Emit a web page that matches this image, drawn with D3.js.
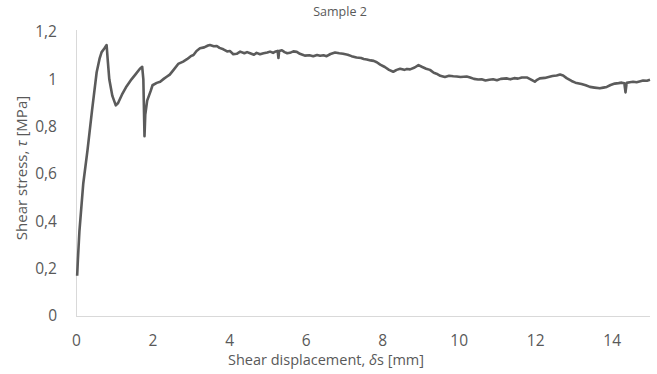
<!DOCTYPE html>
<html>
<head>
<meta charset="utf-8">
<script src="https://cdn.jsdelivr.net/npm/d3@7"></script>
<style>
  html, body { margin: 0; padding: 0; background: #fff; }
  svg { display: block; }
  text { font-family: "Open Sans", "Noto Sans", sans-serif; fill: #595959; }
</style>
</head>
<body>
<svg id="chart" width="657" height="374"></svg>
<script>
// Shear displacement δs [mm]
const displacement = [
  0.03, 0.05, 0.09, 0.19, 0.3, 0.42, 0.54, 0.62, 0.67, 0.74, 0.8, 0.83, 0.87, 0.95, 1.04,
  1.1, 1.2, 1.32, 1.45, 1.55, 1.67, 1.73, 1.76, 1.79, 1.81, 1.86, 1.95, 2.0, 2.11, 2.2, 2.3,
  2.37, 2.45, 2.55, 2.67, 2.8, 2.9, 3.0, 3.07, 3.15, 3.24, 3.35, 3.45, 3.5, 3.6, 3.68, 3.75,
  3.85, 3.95, 4.02, 4.11, 4.2, 4.29, 4.4, 4.47, 4.55, 4.65, 4.72, 4.81, 4.9, 5.0, 5.07, 5.15,
  5.22, 5.27, 5.29, 5.31, 5.38, 5.45, 5.52, 5.59, 5.68, 5.77, 5.85, 5.92, 5.98, 6.1, 6.2, 6.3,
  6.38, 6.47, 6.55, 6.65, 6.77, 6.88, 6.98, 7.1, 7.2, 7.33, 7.45, 7.52, 7.6, 7.7, 7.78, 7.86,
  7.95, 8.07, 8.18, 8.29, 8.38, 8.47, 8.58, 8.65, 8.73, 8.85, 8.95, 9.05, 9.15, 9.25, 9.35, 9.42,
  9.52, 9.64, 9.75, 9.86, 9.95, 10.05, 10.21, 10.3, 10.4, 10.51, 10.6, 10.7, 10.8, 10.9, 11.0, 11.1,
  11.25, 11.35, 11.45, 11.55, 11.65, 11.78, 11.88, 11.99, 12.05, 12.12, 12.25, 12.35, 12.45, 12.56, 12.65, 12.73,
  12.82, 12.95, 13.05, 13.21, 13.32, 13.43, 13.55, 13.69, 13.78, 13.87, 13.97, 14.08, 14.18, 14.26, 14.33, 14.36,
  14.39, 14.47, 14.56, 14.65, 14.75, 14.82, 14.92, 15.0
];
// Shear stress τ [MPa]
const stress = [
  0.17, 0.24, 0.36, 0.56, 0.7, 0.87, 1.03, 1.09, 1.115, 1.13, 1.145, 1.08, 1.0, 0.93, 0.89,
  0.9, 0.935, 0.97, 1.0, 1.02, 1.045, 1.053, 1.0, 0.76, 0.85, 0.91, 0.95, 0.975, 0.985, 0.99, 1.003,
  1.011, 1.02, 1.04, 1.065, 1.075, 1.085, 1.098, 1.103, 1.12, 1.131, 1.135, 1.143, 1.145, 1.14, 1.141, 1.133,
  1.127, 1.118, 1.12, 1.106, 1.108, 1.117, 1.11, 1.115, 1.11, 1.104, 1.112, 1.106, 1.11, 1.113, 1.117, 1.112,
  1.118, 1.12, 1.09, 1.12, 1.123, 1.115, 1.11, 1.112, 1.118, 1.116, 1.108, 1.104, 1.1, 1.102, 1.098, 1.103,
  1.1, 1.102, 1.098, 1.107, 1.113, 1.11, 1.108, 1.104, 1.098, 1.092, 1.09, 1.086, 1.084, 1.08, 1.078, 1.072,
  1.062, 1.052, 1.04, 1.032, 1.04, 1.045, 1.04, 1.044, 1.042, 1.05, 1.06, 1.052, 1.045, 1.04, 1.028, 1.024,
  1.015, 1.01, 1.015, 1.013, 1.012, 1.01, 1.012, 1.008, 1.002, 0.999, 1.0, 0.995, 0.998, 1.0, 0.996, 1.002,
  1.004, 1.0, 1.005, 1.003, 1.008, 1.008, 1.0, 0.99, 0.998, 1.004, 1.006, 1.01, 1.014, 1.016, 1.02, 1.016,
  1.005, 0.993, 0.986, 0.98, 0.975, 0.968, 0.965, 0.962, 0.965, 0.968, 0.976, 0.982, 0.984, 0.986, 0.983, 0.945,
  0.985, 0.988, 0.99, 0.988, 0.992, 0.995, 0.994, 0.998
];
const xTicks = [0, 2, 4, 6, 8, 10, 12, 14];
const yTicks = [0, 0.2, 0.4, 0.6, 0.8, 1, 1.2];

const svg = d3.select("#chart");
const plotLeft = 76, plotRight = 650, plotTop = 32, plotBottom = 316;

const x = d3.scaleLinear().domain([0, 15]).range([plotLeft, plotRight]);
const y = d3.scaleLinear().domain([0, 1.2]).range([plotBottom, plotTop]);

const fmt = v => d3.format("~g")(v).replace(".", ",");

// axis lines
svg.append("line").attr("x1", plotLeft + 0.5).attr("x2", plotLeft + 0.5).attr("y1", 30).attr("y2", plotBottom)
  .attr("stroke", "#d9d9d9").attr("stroke-width", 1);
svg.append("line").attr("x1", plotLeft).attr("x2", plotRight).attr("y1", plotBottom + 0.5).attr("y2", plotBottom + 0.5)
  .attr("stroke", "#d9d9d9").attr("stroke-width", 1);

// x axis labels
const xAxis = d3.axisBottom(x).tickValues(xTicks).tickFormat(fmt).tickSize(0).tickPadding(0);
const gx = svg.append("g").attr("transform", `translate(0,${plotBottom + 18.5})`).call(xAxis);
gx.select(".domain").remove();
gx.selectAll("text").attr("font-size", 15.5).attr("fill", "#595959")
  .style("font-family", "'Open Sans', sans-serif");

// y axis labels
const yAxis = d3.axisLeft(y).tickValues(yTicks).tickFormat(fmt).tickSize(0).tickPadding(0);
const gy = svg.append("g").attr("transform", `translate(57,0)`).call(yAxis);
gy.select(".domain").remove();
gy.selectAll("text").attr("font-size", 15.5).attr("fill", "#595959")
  .style("font-family", "'Open Sans', sans-serif");

// data line
const pts = displacement.map((d, i) => [d, stress[i]]);
svg.append("path").datum(pts)
  .attr("fill", "none")
  .attr("stroke", "#5b5b5b")
  .attr("stroke-width", 2.6)
  .attr("stroke-linejoin", "round")
  .attr("d", d3.line().x(d => x(d[0])).y(d => y(d[1])));

// title
svg.append("text").attr("x", 340).attr("y", 16).attr("text-anchor", "middle")
  .attr("font-size", 12.5).text("Sample 2");

// axis titles
svg.append("text").attr("x", 326).attr("y", 365).attr("text-anchor", "middle")
  .attr("font-size", 14.5)
  .html("Shear displacement, <tspan font-style='italic'>δ</tspan>s [mm]");
svg.append("text").attr("transform", "translate(27,168) rotate(-90)").attr("text-anchor", "middle")
  .attr("font-size", 15)
  .html("Shear stress, <tspan font-style='italic'>τ</tspan> [MPa]");
</script>
</body>
</html>
